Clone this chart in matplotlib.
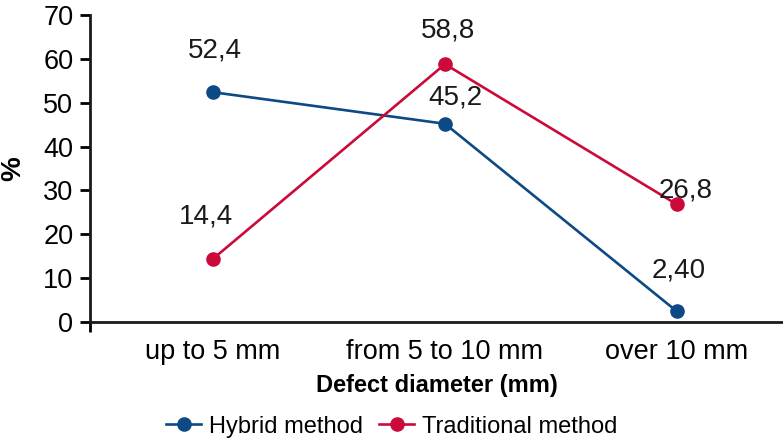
import matplotlib.pyplot as plt
import numpy as np

plt.rcParams['font.family'] = ['Liberation Sans', 'DejaVu Sans']

# Data
categories = ['up to 5 mm', 'from 5 to 10 mm', 'over 10 mm']
hybrid = [52.4, 45.2, 2.40]
traditional = [14.4, 58.8, 26.8]
hybrid_labels = ['52,4', '45,2', '2,40']
traditional_labels = ['14,4', '58,8', '26,8']

blue = '#0d4a85'
red = '#cc0a3a'

fig = plt.figure(figsize=(7.83, 4.42), dpi=100)
ax = fig.add_axes([0.115, 0.2715, 0.885, 0.6945])

x = np.arange(len(categories))
ax.plot(x, hybrid, color=blue, lw=1.9, marker='o', ms=9.5, label='Hybrid method', zorder=3)
ax.plot(x, traditional, color=red, lw=1.9, marker='o', ms=9.5, label='Traditional method', zorder=3)

# value labels, offsets in pixels
hyb_off = [(2, 42), (10, 26), (2, 41)]
tra_off = [(-7, 42), (3, 34), (9, 14)]
for xi, v, s, off in zip(x, hybrid, hybrid_labels, hyb_off):
    ax.annotate(s, (xi, v), xytext=off, textcoords='offset pixels',
                ha='center', va='center', fontsize=20, color='#1a1a1a')
for xi, v, s, off in zip(x, traditional, traditional_labels, tra_off):
    ax.annotate(s, (xi, v), xytext=off, textcoords='offset pixels',
                ha='center', va='center', fontsize=20, color='#1a1a1a')

ax.set_xlim(-0.53, 2.457)
ax.set_ylim(0, 70)
ax.set_yticks(np.arange(0, 71, 10))
ax.set_xticks(x)
ax.set_xticklabels(categories)
ax.set_xticks([-0.53], minor=True)
ax.tick_params(axis='x', which='major', length=0, pad=12, labelsize=19.5)
ax.tick_params(axis='x', which='minor', length=7, width=2)
ax.tick_params(axis='y', length=7, width=2, pad=5, labelsize=19.5)

for s in ['top', 'right']:
    ax.spines[s].set_visible(False)
for s in ['left', 'bottom']:
    ax.spines[s].set_linewidth(2)
    ax.spines[s].set_color('#1a1a1a')

ax.set_xlabel('Defect diameter (mm)', fontsize=17, fontweight='bold', labelpad=7)
ax.set_ylabel('%', fontsize=20, fontweight='bold', labelpad=12)

fig.legend(loc='center', bbox_to_anchor=(0.5, 0.035), ncol=2, frameon=False,
           fontsize=17, handlelength=1.5, handletextpad=0.3, columnspacing=0.7,
           borderaxespad=0)

fig.savefig('out.png', dpi=100)
